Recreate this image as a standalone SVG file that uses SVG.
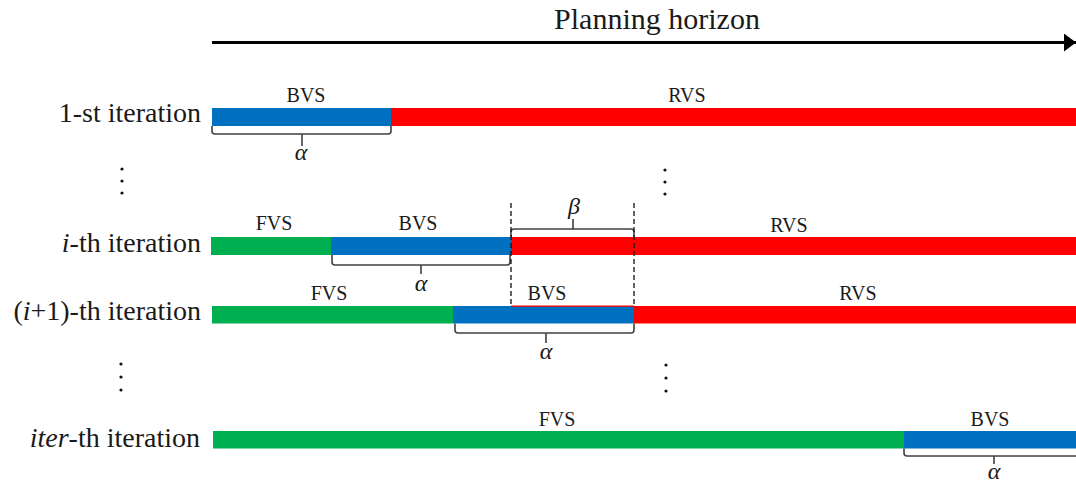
<svg xmlns="http://www.w3.org/2000/svg" width="1076" height="482" viewBox="0 0 1076 482">
<style>
text{font-family:"Liberation Serif","Times New Roman",serif;fill:#1a1a1a}
.lbl{font-size:28px;text-anchor:end}
.seg{font-size:20px;text-anchor:middle}
.gk{font-size:24px;font-style:italic;text-anchor:middle}
.g{fill:#00B050}.b{fill:#0070C0}.r{fill:#FF0000}
.brace{fill:none;stroke:#404040;stroke-width:1.6}
.dash{stroke:#111;stroke-width:1.3;stroke-dasharray:5 3;fill:none}
.dot{fill:#111}
</style>
<defs>
<marker id="ah" viewBox="0 0 12 18" refX="12" refY="9" markerWidth="12" markerHeight="18" markerUnits="userSpaceOnUse" orient="auto">
<path d="M0,0 L12,9 L0,18 Z" fill="#000"/>
</marker>
</defs>
<g id="axis">
<line x1="212" y1="42.5" x2="1076" y2="42.5" stroke="#000" stroke-width="3.2" marker-end="url(#ah)"/>
<text x="657" y="29" style="font-size:30px;text-anchor:middle">Planning horizon</text>
</g>
<g id="row1">
<text class="lbl" x="201" y="122">1-st iteration</text>
<rect class="b" x="212" y="108" width="179" height="18"/>
<rect class="r" x="391" y="108" width="685" height="18"/>
<text class="seg" x="306" y="102">BVS</text>
<text class="seg" x="687" y="102">RVS</text>
</g>
<g id="rowi">
<text class="lbl" x="201" y="252"><tspan font-style="italic">i</tspan>-th iteration</text>
<rect class="g" x="211" y="237" width="120" height="18"/>
<rect class="b" x="331" y="237" width="180" height="18"/>
<rect class="r" x="511" y="237" width="565" height="18"/>
<text class="seg" x="274" y="230">FVS</text>
<text class="seg" x="418" y="230">BVS</text>
<text class="seg" x="789" y="232">RVS</text>
</g>
<g id="rowi1">
<text class="lbl" x="201" y="320">(<tspan font-style="italic">i</tspan>+1)-th iteration</text>
<rect class="g" x="212" y="306" width="241" height="17.5"/>
<rect class="b" x="453" y="306" width="181" height="17.5"/>
<rect class="r" x="634" y="306" width="442" height="17.5"/>
<rect class="r" x="511" y="305.5" width="123" height="1.3"/>
<text class="seg" x="329" y="300">FVS</text>
<text class="seg" x="547" y="300">BVS</text>
<text class="seg" x="858" y="300">RVS</text>
</g>
<g id="rowiter">
<text class="lbl" x="200" y="447"><tspan font-style="italic">iter</tspan>-th iteration</text>
<rect class="g" x="213" y="431" width="691" height="17.5"/>
<rect class="b" x="904" y="431" width="172" height="17.5"/>
<text class="seg" x="557" y="426">FVS</text>
<text class="seg" x="990" y="426">BVS</text>
</g>
<g id="ellipses">
<circle class="dot" cx="122" cy="169" r="1.6"/><circle class="dot" cx="122" cy="181" r="1.6"/><circle class="dot" cx="122" cy="193" r="1.6"/>
<circle class="dot" cx="665" cy="170" r="1.6"/><circle class="dot" cx="665" cy="182" r="1.6"/><circle class="dot" cx="665" cy="194" r="1.6"/>
<circle class="dot" cx="121" cy="364" r="1.6"/><circle class="dot" cx="121" cy="377" r="1.6"/><circle class="dot" cx="121" cy="390" r="1.6"/>
<circle class="dot" cx="666" cy="365" r="1.6"/><circle class="dot" cx="666" cy="378" r="1.6"/><circle class="dot" cx="666" cy="391" r="1.6"/>
</g>
<g id="connectors">
<path class="brace" d="M212,126 V131 Q212,134 215,134 H388 Q391,134 391,131 V126 M302,134 V146"/>
<path class="brace" d="M332,255 V262 Q332,265 335,265 H507 Q510,265 510,262 V255 M421,265 V274"/>
<path class="brace" d="M455,323.5 V330 Q455,333 458,333 H631 Q634,333 634,330 V323.5 M546,333 V343"/>
<path class="brace" d="M904,448.5 V453 Q904,456 907,456 H1080 M994,456 V464"/>
<path class="brace" d="M511,237 V232 Q511,229 514,229 H631 Q634,229 634,232 V237 M573,229 V219"/>
<line class="dash" x1="511" y1="203" x2="511" y2="306"/>
<line class="dash" x1="634" y1="203" x2="634" y2="306"/>
</g>
<g id="greek">
<text class="gk" x="301" y="160">α</text>
<text class="gk" x="421" y="291">α</text>
<text class="gk" x="546" y="359">α</text>
<text class="gk" x="994" y="479">α</text>
<text class="gk" x="574" y="214">β</text>
</g>
</svg>
